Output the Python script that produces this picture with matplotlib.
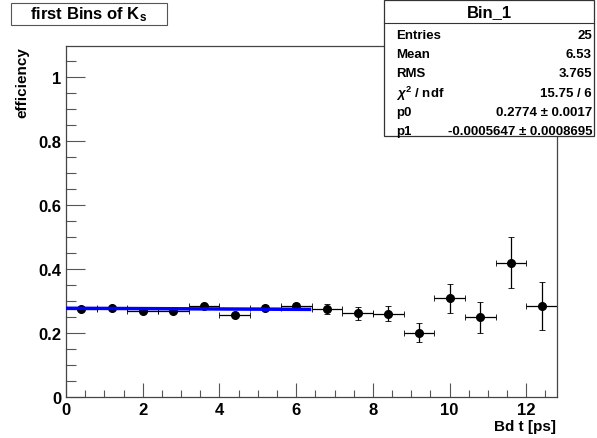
import numpy as np
import matplotlib
matplotlib.use("Agg")
import matplotlib.pyplot as plt
from matplotlib.patches import Rectangle
from matplotlib.lines import Line2D
from matplotlib.ticker import MultipleLocator

plt.rcParams['font.family'] = ['Liberation Sans', 'DejaVu Sans']
plt.rcParams['font.weight'] = 'bold'
plt.rcParams['mathtext.fontset'] = 'custom'
plt.rcParams['mathtext.rm'] = 'Liberation Sans:bold'
plt.rcParams['mathtext.bf'] = 'Liberation Sans:bold'
plt.rcParams['mathtext.it'] = 'Liberation Sans:bold:italic'

# bin centres of the decay time histogram (bin width 0.8 ps)
t_centers = [0.4, 1.2, 2.0, 2.8, 3.6, 4.4, 5.2, 6.0,
             6.8, 7.6, 8.4, 9.2, 10.0, 10.8, 11.6, 12.4]
t_halfwidth = [0.4] * 16
efficiency = [0.275, 0.277, 0.270, 0.270, 0.283, 0.256, 0.279, 0.285,
              0.275, 0.262, 0.260, 0.201, 0.308, 0.249, 0.420, 0.284]
eff_err = [0.005, 0.005, 0.006, 0.006, 0.007, 0.007, 0.008, 0.009,
           0.015, 0.020, 0.023, 0.029, 0.045, 0.048, 0.079, 0.076]

# fit result p0 + p1*t
p0 = 0.2774
p1 = -0.0005647
fit_range = [0.0, 6.35]

stat_names = ["Entries", "Mean", "RMS", r"$\chi^{2}$ / ndf", "p0", "p1"]
stat_values = ["25", "6.53", "3.765", "15.75 / 6",
               "0.2774 \u00b1 0.0017", "-0.0005647 \u00b1 0.0008695"]

W, H = 597, 439
fig = plt.figure(figsize=(W / 100, H / 100), dpi=100)


def fx(px):
    return px / W


def fy(py):
    return 1 - py / H


ax = fig.add_axes([fx(66), fy(398), fx(557) - fx(66), fy(47) - fy(398)])
ax.set_xlim(0, 12.8)
ax.set_ylim(0, 1.097)

ax.errorbar(t_centers, efficiency, xerr=t_halfwidth, yerr=eff_err,
            fmt='o', color='black', ms=5.5, ecolor='black', elinewidth=0.9,
            capsize=2, capthick=0.6)
tf = np.linspace(fit_range[0], fit_range[1], 50)
ax.plot(tf, p0 + p1 * tf, color='#0000ff', lw=2.5, zorder=3)

ax.xaxis.set_major_locator(MultipleLocator(2))
ax.xaxis.set_minor_locator(MultipleLocator(0.5))
ax.yaxis.set_major_locator(MultipleLocator(0.2))
ax.yaxis.set_minor_locator(MultipleLocator(0.05))
ax.tick_params(which='both', direction='in', top=False, right=False,
               labelsize=12, color='#555555')
ax.tick_params(which='major', length=10, width=0.8)
ax.tick_params(which='minor', length=5, width=0.8)
ax.tick_params(axis='y', which='major', length=14)
ax.tick_params(axis='y', which='minor', length=7)
ax.set_xticks([0, 2, 4, 6, 8, 10, 12])
ax.set_xticklabels(['0', '2', '4', '6', '8', '10', '12'], fontweight='bold')
ax.set_yticks([0, 0.2, 0.4, 0.6, 0.8, 1.0])
ax.set_yticklabels(['0', '0.2', '0.4', '0.6', '0.8', '1'], fontweight='bold')
for s in ax.spines.values():
    s.set_color('#444444')
    s.set_linewidth(0.9)

fig.text(fx(556), fy(427), "Bd t [ps]", ha='right', va='center',
         fontsize=11, fontweight='bold')
fig.text(fx(22), fy(47), "efficiency", ha='center', va='top',
         rotation=90, fontsize=11, fontweight='bold')

# title box
fig.patches.append(Rectangle((fx(12), fy(27)), fx(156), fy(5) - fy(27),
                             transform=fig.transFigure, facecolor='#777777',
                             edgecolor='none'))
fig.patches.append(Rectangle((fx(11), fy(26)), fx(156), fy(4) - fy(26),
                             transform=fig.transFigure, facecolor='white',
                             edgecolor='#555555', lw=0.8))
fig.text(fx(89), fy(15), r"first Bins of K$_{\mathbf{s}}$", ha='center',
         va='center', fontsize=12, fontweight='bold')

# statistics box
fig.patches.append(Rectangle((fx(384), fy(137)), fx(594) - fx(384),
                             fy(1) - fy(137), transform=fig.transFigure,
                             facecolor='white', edgecolor='#333333', lw=0.9))
fig.lines.append(Line2D([fx(384), fx(594)], [fy(24), fy(24)],
                        transform=fig.transFigure, color='#333333', lw=0.8))
fig.text(fx(489), fy(13), "Bin_1", ha='center', va='center',
         fontsize=12, fontweight='bold')
row_y = [35.7, 54.5, 73.7, 94, 113, 131.7]
for name, val, yy in zip(stat_names, stat_values, row_y):
    fig.text(fx(396), fy(yy), name, ha='left', va='center',
             fontsize=9.5, fontweight='bold')
    fig.text(fx(592), fy(yy), val, ha='right', va='center',
             fontsize=9.5, fontweight='bold')

fig.savefig("out.png", dpi=100)
